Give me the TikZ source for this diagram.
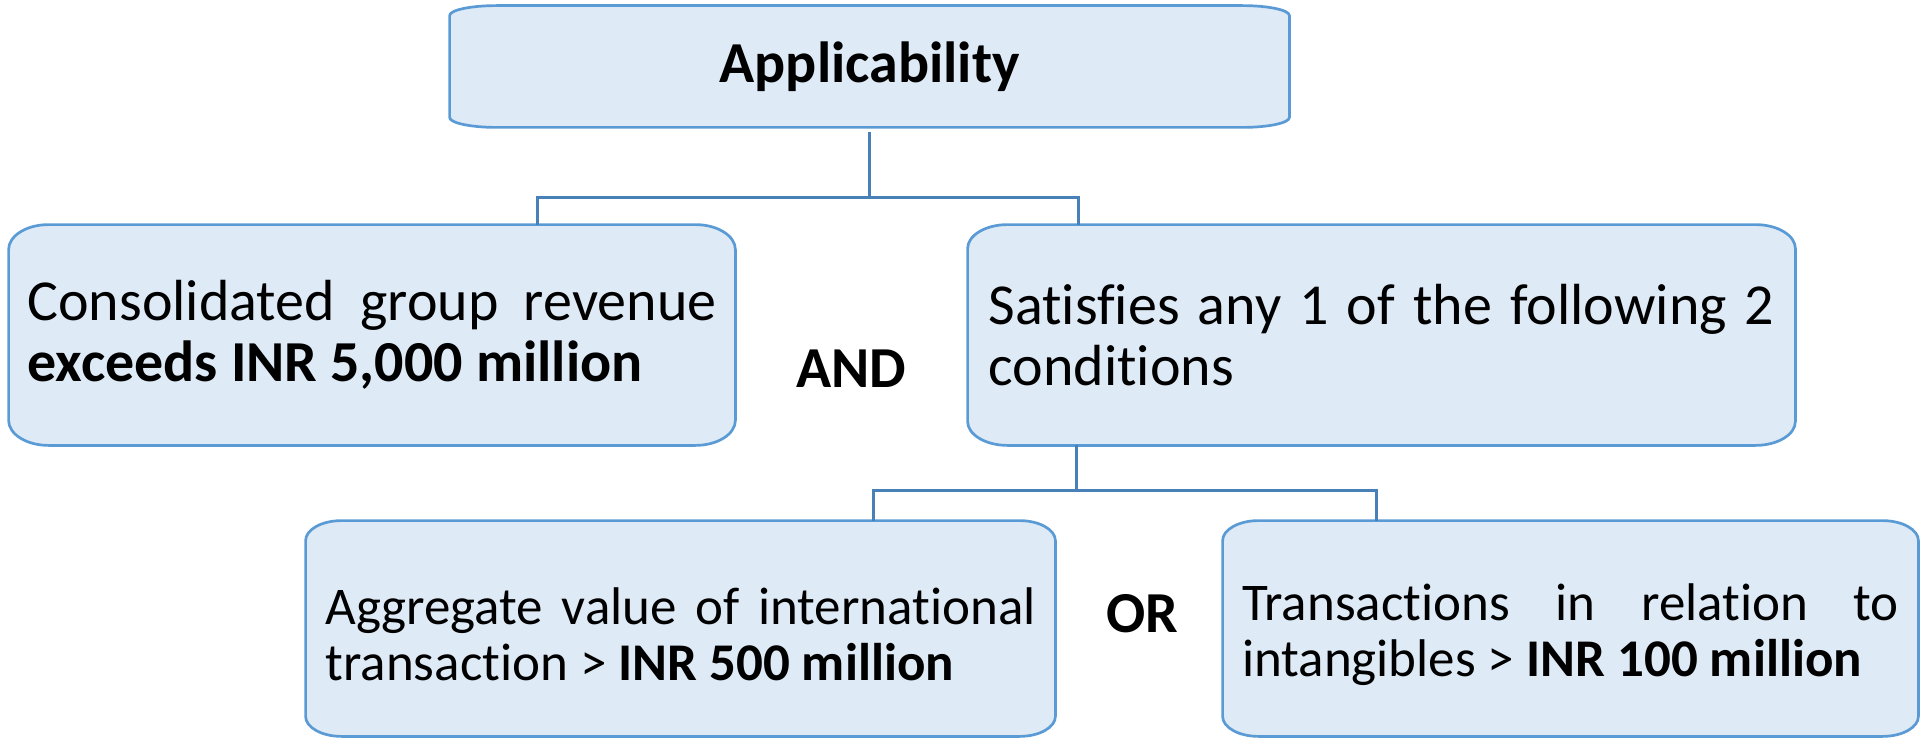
\documentclass[tikz,border=0pt]{standalone}
\usepackage{fontspec}
\setmainfont{Carlito}[Ligatures=NoCommon]
\usetikzlibrary{backgrounds}
\usepackage{xcolor}
\definecolor{PlaqueEdge}{RGB}{91,155,213}
\definecolor{PlaqueFill}{RGB}{222,234,246}
\definecolor{LinkBlue}{RGB}{72,128,184}

\newcommand{\plaque}[3]{%
  \draw[plaqueline] ([xshift=#2]#1.north west) -- ([xshift=-#2]#1.north east)
    arc[start angle=90,end angle=0,x radius=#2,y radius=#3]
    -- ([yshift=#3]#1.south east)
    arc[start angle=0,end angle=-90,x radius=#2,y radius=#3]
    -- ([xshift=#2]#1.south west)
    arc[start angle=270,end angle=180,x radius=#2,y radius=#3]
    -- ([yshift=-#3]#1.north west)
    arc[start angle=180,end angle=90,x radius=#2,y radius=#3]
    -- cycle;}
\newcommand{\lowstrut}{\rule{0pt}{24.5pt}}

\begin{document}
\begin{tikzpicture}[
x=0.5pt,y=-0.5pt,
titlebox/.style={
rectangle,inner sep=0pt,font=\fontsize{29}{30}\selectfont\bfseries
},
box/.style={
rectangle,inner sep=0pt,align=justify,font=\fontsize{29}{30.5}\selectfont
},
smallbox/.style={box,font=\fontsize{26.5}{28}\selectfont},
plaqueline/.style={draw=PlaqueEdge,fill=PlaqueFill,line width=1.35pt},
link/.style={draw=LinkBlue,line width=1.5pt},
joinword/.style={anchor=base,font=\fontsize{29}{30}\selectfont\bfseries}
]
\useasboundingbox (0,0) rectangle (1926,738);

\node[titlebox,minimum width=419.5pt,minimum height=60.5pt] (appl) at (869.5,66.5) {Applicability};

\node[box,minimum width=363pt,minimum height=110pt,text width=344.5pt] (rev) at (372,335)
  {Consolidated group revenue\linebreak \textbf{exceeds INR 5,000 million}};
\node[box,minimum width=413.5pt,minimum height=110pt,text width=393pt] (cond) at (1381.5,335)
  {Satisfies any 1 of the following 2\linebreak conditions};

\node[smallbox,minimum width=374.5pt,minimum height=107.5pt,text width=355pt] (intl) at (680.5,628.5)
  {\lowstrut Aggregate value of international\linebreak transaction > \textbf{INR 500 million}};
\node[smallbox,minimum width=347.5pt,minimum height=107.5pt,text width=328.5pt] (intg) at (1570.5,628.5)
  {\lowstrut Transactions in relation to\linebreak intangibles > \textbf{INR 100 million}};

\node[joinword] (and) at (851,387) {AND};
\node[joinword] (or) at (1142,632) {OR};

\begin{scope}[on background layer]
\plaque{appl}{23.5pt}{5pt}
\plaque{rev}{20pt}{12.5pt}
\plaque{cond}{20pt}{12pt}
\plaque{intl}{18pt}{10pt}
\plaque{intg}{18pt}{10pt}
\end{scope}

\draw[link,shorten <=2.5pt] (appl.south) -- (appl.south |- 0,197) coordinate (fork1);
\draw[link] (537,0 |- rev.north) |- (fork1) -| (1078,0 |- cond.north);

\draw[link] (1076,0 |- cond.south) -- (1076,490) coordinate (fork2);
\draw[link] (873,0 |- intl.north) |- (fork2) -| (1376,0 |- intg.north);

\end{tikzpicture}
\end{document}
